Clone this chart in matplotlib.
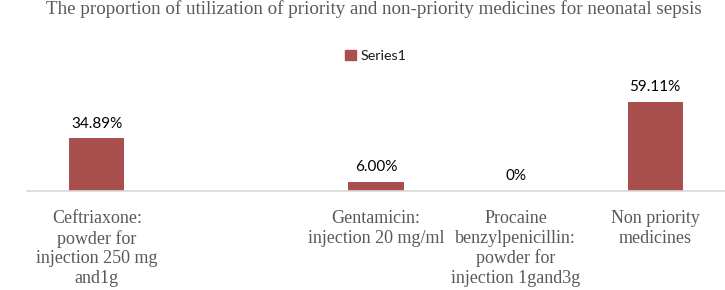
import numpy as np
import matplotlib
matplotlib.use("Agg")
import matplotlib.pyplot as plt
from matplotlib.patches import Patch

# data
categories = [
    "Ceftriaxone:\npowder for\ninjection 250 mg\nand1g",
    "",
    "Gentamicin:\ninjection 20 mg/ml",
    "Procaine\nbenzylpenicillin:\npowder for\ninjection 1gand3g",
    "Non priority\nmedicines",
]
values = [34.89, None, 6.00, 0.0, 59.11]
value_labels = ["34.89%", "", "6.00%", "0%", "59.11%"]

bar_color = "#A9504E"
grey = "#595959"

fig = plt.figure(figsize=(7.25, 2.9), dpi=100)
ax = fig.add_axes([27 / 725, 1 - 190.7 / 290, 698 / 725, 70 * 1.505 / 290])

x = np.arange(len(categories))
heights = [v if v is not None else 0 for v in values]
ax.bar(x, heights, width=0.395, color=bar_color, zorder=2)

for xi, v, lab in zip(x, values, value_labels):
    if v is None:
        continue
    ax.annotate(lab, (xi, v), xytext=(0, 5.5), textcoords="offset points",
                ha="center", va="bottom", fontsize=11, family="Lato",
                color="#000000", annotation_clip=False)

ax.set_xlim(-0.5, len(categories) - 0.5)
ax.set_ylim(0, 70)
ax.set_yticks([])
ax.set_xticks(x)
ax.set_xticklabels(categories, family="Liberation Serif", fontsize=13,
                   color=grey, linespacing=1.2)
ax.tick_params(axis="x", length=0, pad=14)
for s in ["top", "right", "left"]:
    ax.spines[s].set_visible(False)
ax.spines["bottom"].set_color("#D9D9D9")
ax.spines["bottom"].set_linewidth(1.2)

fig.text(374 / 725, 1 - 9 / 290, "The proportion of utilization of priority and non-priority medicines for neonatal sepsis",
         ha="center", va="center", family="Liberation Serif", fontsize=13.65, color=grey)

handles = [Patch(color=bar_color, label="Series1")]
fig.legend(handles=handles, loc="center", bbox_to_anchor=(376 / 725, 1 - 56 / 290),
           frameon=False, prop={"family": "Lato", "size": 10.3}, handlelength=0.75,
           handleheight=0.75, handletextpad=0.35, labelcolor="#1A1A1A")

fig.savefig("out.png", dpi=100)
